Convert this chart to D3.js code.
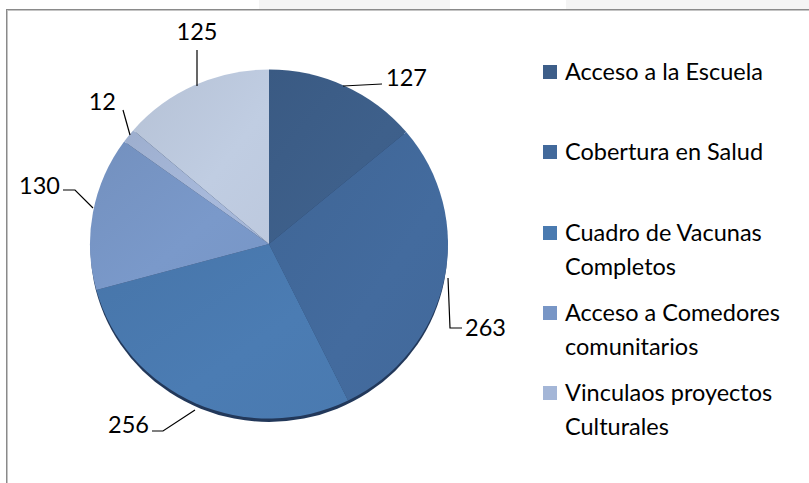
<!DOCTYPE html>
<html><head><meta charset="utf-8">
<script src="https://cdn.jsdelivr.net/npm/d3@7/dist/d3.min.js"></script>
<style>body{margin:0;background:#fff}svg{display:block}</style>
</head><body>
<svg id="c" width="809" height="483"></svg>
<script>
const categories = ["Acceso a la Escuela","Cobertura en Salud","Cuadro de Vacunas Completos","Acceso a Comedores comunitarios","Vinculaos proyectos Culturales","Otros"];
const values = [127,263,256,130,12,125];
const colors = ["#3d5e89","#42699b","#4a7ab0","#7896c6","#a4b6d7","#bdc9de"];
const legendLines = [["Acceso a la Escuela"],["Cobertura en Salud"],["Cuadro de Vacunas","Completos"],["Acceso a Comedores","comunitarios"],["Vinculaos proyectos","Culturales"]];

const svg = d3.select("#c");
const font = "Lato, 'Open Sans', sans-serif";
const fs = 23.5;
// top strip patches
svg.append("rect").attr("x",259).attr("y",0).attr("width",191).attr("height",9).attr("fill","#f4f4f4");
svg.append("rect").attr("x",566).attr("y",0).attr("width",243).attr("height",9).attr("fill","#f4f4f4");
// frame
svg.append("line").attr("x1",6).attr("x2",809).attr("y1",9.5).attr("y2",9.5).attr("stroke","#8a8a8a").attr("stroke-width",1);
svg.append("line").attr("x1",6).attr("x2",809).attr("y1",10.5).attr("y2",10.5).attr("stroke","#c4c4c4").attr("stroke-width",1);
svg.append("line").attr("x1",6.5).attr("x2",6.5).attr("y1",9).attr("y2",483).attr("stroke","#8a8a8a").attr("stroke-width",1);
svg.append("line").attr("x1",7.5).attr("x2",7.5).attr("y1",11).attr("y2",483).attr("stroke","#c4c4c4").attr("stroke-width",1);

const cx = 269, cy = 244, R = 179;
const pie = d3.pie().sort(null).value(d=>d)(values);
const arc = d3.arc().innerRadius(0).outerRadius(R);

const defs = svg.append("defs");
colors.forEach((c,i)=>{
  const g = defs.append("linearGradient").attr("id","g"+i).attr("x1","0").attr("y1","0").attr("x2","1").attr("y2","1");
  g.append("stop").attr("offset","0").attr("stop-color",d3.color(c).darker(0.12));
  g.append("stop").attr("offset","0.6").attr("stop-color",d3.color(c).brighter(0.05));
  g.append("stop").attr("offset","1").attr("stop-color",c);
});

const g = svg.append("g").attr("transform",`translate(${cx},${cy}) scale(1,0.975)`);
// shadow
g.append("circle").attr("cx",0).attr("cy",4).attr("r",R-0.5).attr("fill","#22385a");
g.selectAll("path.s").data(pie).join("path").attr("class","s")
  .attr("d",arc).attr("fill",(d,i)=>`url(#g${i})`);

// labels with leader lines
const labels = [
  {t:"127", pts:[[343,86],[382,84]], tx:386, ty:78, anchor:"start"},
  {t:"263", pts:[[448,278],[450,328],[462,328]], tx:465, ty:328, anchor:"start"},
  {t:"256", pts:[[195,410],[163,431],[152,431]], tx:149, ty:425, anchor:"end"},
  {t:"130", pts:[[93,208],[75,190],[63,190]], tx:60, ty:186, anchor:"end"},
  {t:"12", pts:[[130,135],[123,110]], tx:116, ty:102, anchor:"end"},
  {t:"125", pts:[[197,86],[197,50]], tx:197, ty:32, anchor:"middle"}
];
labels.forEach((l,i)=>{
  svg.append("path").attr("d",d3.line()(l.pts)).attr("fill","none").attr("stroke","#000").attr("stroke-width",1.2);
  svg.append("text").attr("x",l.tx).attr("y",l.ty).attr("dy","0.35em").attr("text-anchor",l.anchor)
    .attr("font-family",font).attr("font-size",fs).attr("fill","#000").text(String(values[i]));
});

// legend
const lg = svg.append("g");
const legY = [72,152,233,313,393];
legendLines.forEach((lines,i)=>{
  lg.append("rect").attr("x",543).attr("y",legY[i]-7).attr("width",14).attr("height",14).attr("fill",colors[i]);
  lines.forEach((s,j)=>{
    lg.append("text").attr("x",565).attr("y",legY[i]+j*34).attr("dy","0.35em")
      .attr("font-family",font).attr("font-size",fs).attr("fill","#000").text(s);
  });
});
</script>
</body></html>
